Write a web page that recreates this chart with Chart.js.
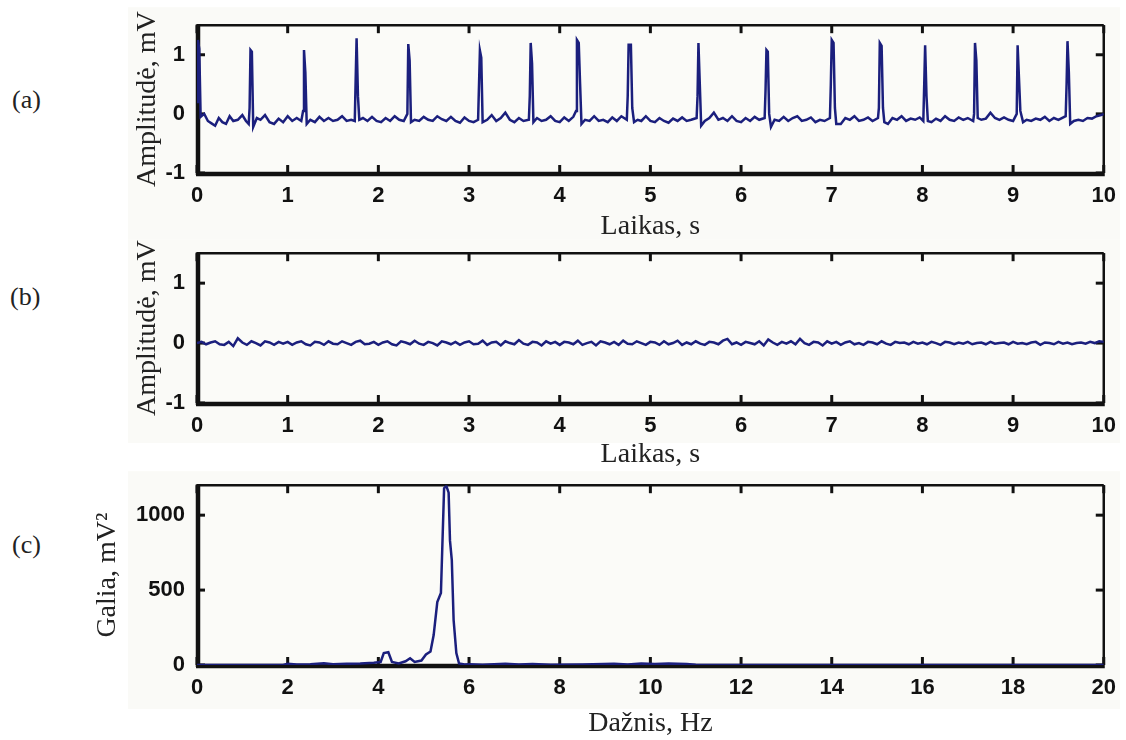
<!DOCTYPE html>
<html><head><meta charset="utf-8">
<script src="https://cdn.jsdelivr.net/npm/chart.js@4.4.0/dist/chart.umd.min.js"></script>
<style>
html,body{margin:0;padding:0;background:#fff;overflow:hidden;width:1126px;height:740px;}
canvas{position:absolute;left:0;}
.lbl{position:absolute;font-family:"Liberation Serif",serif;font-size:26px;line-height:30px;color:#222;}
</style></head><body>
<div class="lbl" style="left:12px;top:85px">(a)</div>
<div class="lbl" style="left:10px;top:282px">(b)</div>
<div class="lbl" style="left:12px;top:530px">(c)</div>
<canvas id="ca" width="1126" height="245" style="top:0px"></canvas>
<canvas id="cb" width="1126" height="245" style="top:228px"></canvas>
<canvas id="cc" width="1126" height="280" style="top:460px"></canvas>
<script>
// ---- Panel (a): raw ECG, time (s) and amplitude (mV)
const timeA = [0.00,0.01,0.025,0.04,0.08,0.12,0.16,0.20,0.24,0.28,0.32,0.36,0.40,0.45,0.50,0.54,0.57,0.58,0.59,0.605,0.62,0.66,0.70,0.75,0.80,0.85,0.90,0.95,1.00,1.05,1.10,1.15,1.17,1.18,1.195,1.21,1.25,1.30,1.35,1.40,1.45,1.50,1.55,1.60,1.65,1.70,1.74,1.75,1.76,1.775,1.79,1.83,1.88,1.93,1.98,2.03,2.08,2.13,2.18,2.23,2.28,2.32,2.33,2.345,2.36,2.40,2.45,2.50,2.55,2.60,2.65,2.70,2.75,2.80,2.85,2.90,2.95,3.00,3.05,3.10,3.12,3.135,3.15,3.20,3.25,3.30,3.35,3.40,3.45,3.50,3.55,3.60,3.66,3.67,3.68,3.695,3.71,3.75,3.80,3.85,3.90,3.95,4.00,4.05,4.10,4.15,4.18,4.19,4.21,4.225,4.24,4.28,4.33,4.38,4.43,4.48,4.53,4.58,4.63,4.68,4.74,4.75,4.76,4.785,4.80,4.82,4.86,4.90,4.95,5.00,5.05,5.10,5.15,5.20,5.25,5.30,5.35,5.40,5.45,5.51,5.52,5.53,5.545,5.56,5.60,5.65,5.70,5.75,5.80,5.85,5.90,5.95,6.00,6.05,6.10,6.15,6.20,6.26,6.27,6.28,6.295,6.31,6.33,6.37,6.42,6.47,6.52,6.57,6.62,6.67,6.72,6.77,6.82,6.87,6.92,6.98,6.99,7.00,7.02,7.035,7.05,7.10,7.15,7.20,7.25,7.30,7.35,7.40,7.45,7.51,7.52,7.53,7.55,7.565,7.58,7.62,7.67,7.72,7.77,7.82,7.87,7.92,7.97,8.01,8.02,8.03,8.045,8.06,8.10,8.15,8.20,8.25,8.30,8.35,8.40,8.45,8.50,8.56,8.57,8.58,8.595,8.61,8.65,8.70,8.75,8.80,8.85,8.90,8.95,9.00,9.04,9.05,9.065,9.08,9.11,9.15,9.20,9.25,9.30,9.35,9.40,9.45,9.50,9.58,9.59,9.60,9.615,9.63,9.67,9.72,9.77,9.82,9.87,9.92,9.97,10.0];
const ampA = [0.2,1.25,1.1,-0.05,0.0,-0.12,-0.16,-0.2,-0.07,-0.14,-0.17,-0.04,-0.12,-0.1,-0.02,-0.12,-0.17,0.1,1.08,1.05,-0.22,-0.07,-0.1,-0.02,-0.14,-0.17,-0.08,-0.14,-0.04,-0.12,-0.07,-0.12,0.05,1.08,0.7,-0.17,-0.1,-0.14,-0.05,-0.12,-0.07,-0.12,-0.1,-0.04,-0.12,-0.1,-0.12,0.6,1.28,0.3,-0.1,-0.07,-0.12,-0.05,-0.12,-0.14,-0.07,-0.12,-0.04,-0.1,-0.12,0.0,1.18,0.9,-0.14,-0.1,-0.12,-0.05,-0.1,-0.12,-0.04,-0.09,-0.12,-0.05,-0.12,-0.15,-0.06,-0.12,-0.14,-0.1,1.07,0.95,-0.14,-0.1,-0.02,-0.12,-0.07,0.02,-0.1,-0.14,-0.07,-0.12,-0.1,0.3,1.2,0.85,-0.14,-0.07,-0.12,-0.1,-0.04,-0.12,-0.14,-0.06,-0.12,-0.05,0.05,1.25,1.2,0.5,-0.17,-0.1,-0.12,-0.04,-0.12,-0.1,-0.14,-0.06,-0.12,-0.04,-0.1,0.3,1.17,1.17,0.1,-0.14,-0.1,-0.12,-0.04,-0.12,-0.14,-0.07,-0.12,-0.15,-0.08,-0.12,-0.06,-0.12,-0.1,-0.07,0.3,1.2,0.5,-0.2,-0.12,-0.07,0.02,-0.1,-0.07,-0.12,-0.04,-0.12,-0.14,-0.07,-0.12,-0.05,-0.1,-0.07,0.4,1.08,1.05,0.0,-0.22,-0.1,-0.12,-0.05,-0.12,-0.07,-0.04,-0.12,-0.1,-0.06,-0.14,-0.1,-0.12,-0.07,0.5,1.25,1.2,0.1,-0.17,-0.17,-0.07,-0.1,-0.04,-0.12,-0.1,-0.06,-0.12,-0.07,0.1,1.2,1.15,0.1,-0.14,-0.17,-0.07,-0.1,-0.04,-0.12,-0.08,-0.1,-0.06,-0.12,0.5,1.16,0.3,-0.12,-0.14,-0.08,-0.12,-0.04,-0.1,-0.12,-0.06,-0.1,-0.07,-0.12,0.0,1.2,0.9,-0.07,-0.1,-0.08,0.02,-0.07,-0.1,-0.06,-0.1,-0.12,0.0,1.16,0.6,0.05,-0.14,-0.1,-0.12,-0.08,-0.1,-0.05,-0.12,-0.07,-0.1,-0.04,0.5,1.23,0.7,-0.17,-0.12,-0.1,-0.12,-0.07,-0.08,-0.04,-0.02,0.0];

// ---- Panel (b): filtered residual, sampled every 0.05 s from 0 to 10 s
const stepB = 0.05;
const ampB = [
 0.00,0.02,-0.02,0.01,0.03,-0.02,-0.03,0.02,-0.05,0.08,0.01,-0.03,0.03,0.00,-0.04,0.03,0.01,-0.03,0.02,-0.01,
 0.02,-0.03,0.01,0.03,-0.02,-0.04,0.02,0.01,-0.03,0.03,-0.01,-0.02,0.03,0.00,-0.03,0.02,0.04,-0.02,-0.01,0.02,
 -0.03,0.01,0.03,-0.02,-0.04,0.03,0.01,-0.02,0.04,-0.01,-0.03,0.02,0.00,-0.04,0.03,0.01,-0.02,0.02,-0.03,0.01,
 0.03,-0.02,-0.01,0.04,-0.03,0.01,0.02,-0.04,0.03,0.00,-0.02,0.05,-0.01,-0.03,0.02,0.01,-0.04,0.03,-0.01,0.02,
 -0.03,0.02,0.01,-0.02,0.04,-0.03,0.00,0.02,-0.04,0.03,0.01,-0.02,0.02,-0.03,0.04,-0.01,-0.02,0.03,0.00,-0.03,
 0.02,0.01,-0.03,0.03,-0.02,0.00,0.04,-0.03,0.01,-0.02,0.03,-0.01,-0.03,0.02,0.01,-0.02,0.04,0.07,-0.02,0.01,
 -0.03,0.02,0.00,-0.02,0.03,-0.04,0.06,0.01,-0.03,0.02,-0.01,0.03,-0.02,0.07,0.00,-0.03,0.02,0.01,-0.04,0.03,
 -0.01,0.02,-0.03,0.01,0.03,-0.02,0.00,-0.03,0.02,0.01,-0.02,0.03,-0.01,-0.03,0.02,0.00,0.01,-0.02,0.02,-0.01,
 0.01,-0.02,0.02,0.00,-0.03,0.02,0.01,-0.02,0.01,-0.01,0.02,-0.02,0.00,0.01,-0.02,0.02,-0.01,0.00,0.01,-0.02,
 0.02,-0.01,0.00,-0.02,0.01,0.02,-0.03,0.01,0.00,-0.02,0.02,-0.01,0.01,-0.02,0.00,0.01,-0.01,0.02,0.00,0.03,
 0.02];

// ---- Panel (c): power spectrum, frequency (Hz) and power (mV^2)
const freqC = [0,1.9,2.0,2.2,2.5,2.8,3.0,3.3,3.6,3.9,4.05,4.12,4.22,4.3,4.45,4.6,4.7,4.8,4.95,5.05,5.15,5.22,5.3,5.38,5.45,5.5,5.55,5.58,5.62,5.66,5.72,5.78,5.9,6.0,6.3,6.8,7.1,7.4,7.8,8.5,9.2,9.5,9.8,10.1,10.4,10.8,11.0,12,20];
const powC  = [0,0,8,3,5,12,5,8,10,15,20,80,85,20,10,25,45,20,30,70,90,200,420,480,1180,1195,1150,830,700,300,80,10,3,5,2,8,4,6,2,3,8,3,10,6,10,6,2,0,0];

// ---- Tick labels
const xTicksAB = [0,1,2,3,4,5,6,7,8,9,10];
const yTicksAB = [-1,0,1];
const xTicksC = [0,2,4,6,8,10,12,14,16,18,20];
const yTicksC = [0,500,1000];

const LINE = '#1b1f7d';
const tickFont = {family:'Liberation Sans', size:22, weight:'bold'};
const titleFont = {family:'Liberation Serif', size:28, weight:'normal'};

const framePlugin = {
  id: 'frame',
  beforeDraw(chart, args, o) {
    const {ctx, chartArea: a} = chart;
    ctx.save();
    ctx.fillStyle = '#fafaf7';
    ctx.fillRect(o.boxLeft, a.top - o.boxTop, 1120 - o.boxLeft, a.bottom - a.top + o.boxTop + o.boxBottom);
    ctx.fillStyle = '#fbfbf8';
    ctx.fillRect(a.left, a.top, a.right - a.left, a.bottom - a.top);
    ctx.restore();
  },
  beforeDatasetsDraw(chart) {
    const {ctx, chartArea: a, scales: {x, y}} = chart;
    const ln = (x1,y1,x2,y2)=>{ctx.beginPath();ctx.moveTo(x1,y1);ctx.lineTo(x2,y2);ctx.stroke();};
    ctx.save();
    ctx.strokeStyle = '#111';
    ctx.lineWidth = 3;
    x.ticks.forEach(t => { const p = x.getPixelForValue(t.value); ln(p,a.top,p,a.top+8); ln(p,a.bottom,p,a.bottom-8); });
    y.ticks.forEach(t => { const p = y.getPixelForValue(t.value); ln(a.left,p,a.left+8,p); ln(a.right,p,a.right-8,p); });
    ctx.lineWidth = 2.5;
    ln(a.left,a.top,a.right,a.top);
    ln(a.right,a.top,a.right,a.bottom);
    ctx.lineWidth = 4.5;
    ln(a.left+1,a.top-1,a.left+1,a.bottom+2);
    ln(a.left-1,a.bottom+1,a.right+1,a.bottom+1);
    ctx.restore();
  }
};

function makeChart(id, pts, cfg) {
  return new Chart(document.getElementById(id), {
    type: 'line',
    data: { datasets: [{ data: pts, borderColor: LINE, borderWidth: 2.5, pointRadius: 0, tension: 0, fill: false }] },
    options: {
      responsive: false, animation: false, events: [],
      layout: { padding: cfg.padding },
      plugins: { legend: {display:false}, tooltip: {enabled:false}, frame: cfg.box },
      scales: {
        x: {
          type: 'linear', min: cfg.xMin, max: cfg.xMax,
          afterBuildTicks: s => { s.ticks = cfg.xTicks.map(v => ({value: v})); },
          afterFit: s => { s.height = cfg.xHeight; },
          grid: {display:false, drawTicks:false}, border: {display:false},
          ticks: {font: tickFont, color:'#111', padding: 10, autoSkip:false, maxRotation:0, callback: v => String(v)},
          title: {display:true, text: cfg.xTitle, font: titleFont, color:'#222', padding:{top:0,bottom:cfg.xTitlePad}}
        },
        y: {
          type: 'linear', min: cfg.yMin, max: cfg.yMax,
          afterBuildTicks: s => { s.ticks = cfg.yTicks.map(v => ({value: v})); },
          afterFit: s => { s.width = cfg.yWidth; },
          grid: {display:false, drawTicks:false}, border: {display:false},
          ticks: {font: tickFont, color:'#111', padding: 12, callback: v => String(v)},
          title: {display:true, text: cfg.yTitle, font: titleFont, color:'#222', padding:{top:cfg.yTitlePad,bottom:0}}
        }
      }
    },
    plugins: [framePlugin]
  });
}

const ptsA = timeA.map((t,i) => ({x: t, y: ampA[i]}));
const ptsB = ampB.map((v,i) => ({x: +(i*stepB).toFixed(2), y: v}));
const ptsC = freqC.map((f,i) => ({x: f, y: powC[i]}));

makeChart('ca', ptsA, {padding:{left:130,top:21,right:16,bottom:0}, xMin:0, xMax:10, yMin:-1, yMax:1.5,
  xTicks:xTicksAB, yTicks:yTicksAB, xHeight:72, yWidth:67, xTitle:'Laikas, s', yTitle:'Amplitudė, mV',
  xTitlePad:2, yTitlePad:1, box:{boxLeft:128, boxTop:18, boxBottom:66}});
makeChart('cb', ptsB, {padding:{left:130,top:21,right:16,bottom:0}, xMin:0, xMax:10, yMin:-1, yMax:1.5,
  xTicks:xTicksAB, yTicks:yTicksAB, xHeight:70, yWidth:67, xTitle:'Laikas, s', yTitle:'Amplitudė, mV',
  xTitlePad:2, yTitlePad:1, box:{boxLeft:128, boxTop:14, boxBottom:40}});
makeChart('cc', ptsC, {padding:{left:88,top:22,right:16,bottom:0}, xMin:0, xMax:20, yMin:0, yMax:1200,
  xTicks:xTicksC, yTicks:yTicksC, xHeight:75, yWidth:109, xTitle:'Dažnis, Hz', yTitle:'Galia, mV²',
  xTitlePad:0, yTitlePad:3, box:{boxLeft:128, boxTop:14, boxBottom:44}});
</script>
</body></html>
